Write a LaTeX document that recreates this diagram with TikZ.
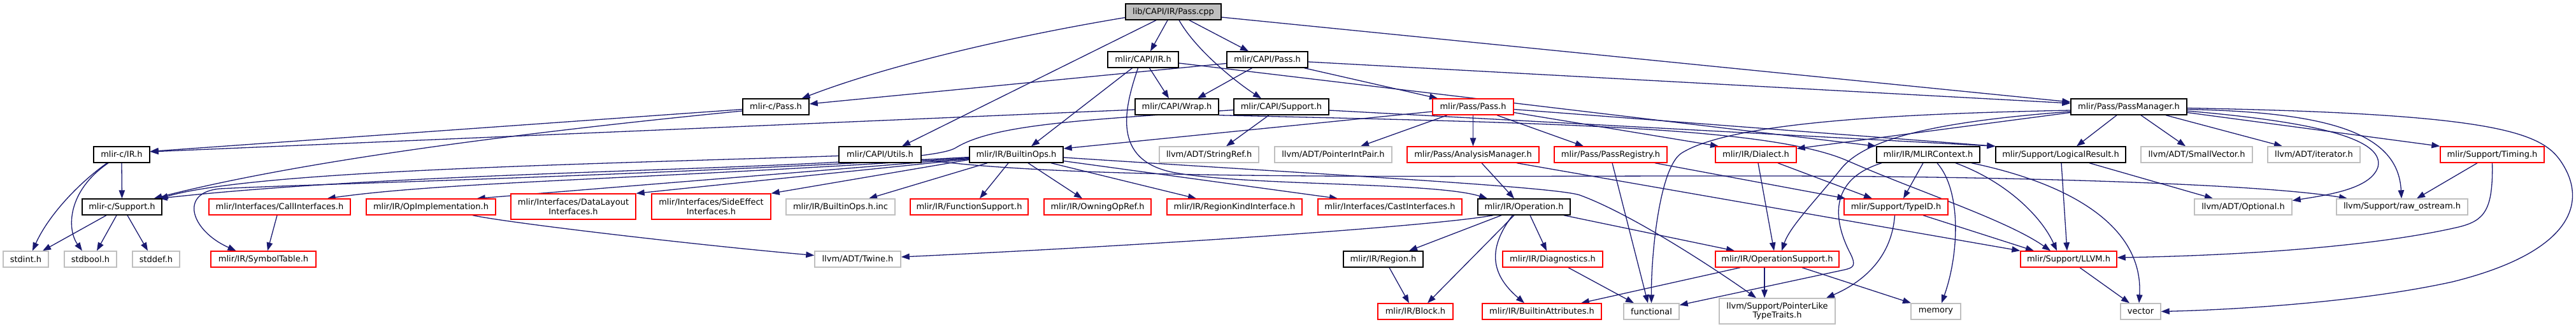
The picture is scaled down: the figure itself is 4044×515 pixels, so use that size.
\documentclass[tikz,border=0pt]{standalone}
\usepackage{fontspec}
\setmainfont{DejaVu Sans}
\usetikzlibrary{arrows.meta}
\pgfdeclarelayer{bg}
\pgfsetlayers{bg,main}
\definecolor{edgeblue}{HTML}{191970}
\definecolor{nodered}{HTML}{FF0000}
\definecolor{nodegray}{HTML}{BFBFBF}
\definecolor{rootfill}{HTML}{BFBFBF}
\begin{document}
\begin{tikzpicture}[x=1pt,y=-1pt,
  base/.style={rectangle, inner sep=0pt, minimum height=25pt, fill=white, align=center,
    font=\fontsize{13}{14.5}\selectfont, line width=1.4pt},
  blk/.style={base, draw=black},
  rbox/.style={base, draw=nodered},
  gbox/.style={base, draw=nodegray},
  root/.style={base, draw=black, fill=rootfill},
  e/.style={draw=edgeblue, line width=1.3pt, -{Triangle[length=13pt,width=9.5pt]}, fill=none}]
\useasboundingbox (0,0) rectangle (4044,515);
% row 0
\node[root, minimum width=150pt] (passcpp) at (1842,18.5) {lib/CAPI/IR/Pass.cpp};
% row 1
\node[blk, minimum width=111pt] (capiir) at (1794.5,93.5) {mlir/CAPI/IR.h};
\node[blk, minimum width=127pt] (capipass) at (1989.5,93.5) {mlir/CAPI/Pass.h};
% row 2
\node[blk, minimum width=104pt] (cpass) at (1218,167.5) {mlir-c/Pass.h};
\node[blk, minimum width=131pt] (capiwrap) at (1847.5,167.5) {mlir/CAPI/Wrap.h};
\node[blk, minimum width=149pt] (capisupport) at (2011.5,167.5) {mlir/CAPI/Support.h};
\node[rbox, minimum width=127pt] (passpass) at (2312.5,167.5) {mlir/Pass/Pass.h};
\node[blk, minimum width=182pt] (passmanager) at (3342,167.5) {mlir/Pass/PassManager.h};
% row 3
\node[blk, minimum width=88pt] (cir) at (191,242.5) {mlir-c/IR.h};
\node[blk, minimum width=129pt] (capiutils) at (1381.5,242.5) {mlir/CAPI/Utils.h};
\node[blk, minimum width=147pt] (builtinops) at (1595.5,242.5) {mlir/IR/BuiltinOps.h};
\node[gbox, minimum width=156pt] (stringref) at (1898,242.5) {llvm/ADT/StringRef.h};
\node[gbox, minimum width=184pt] (pointerintpair) at (2093,242.5) {llvm/ADT/PointerIntPair.h};
\node[rbox, minimum width=207pt] (analysismanager) at (2312.5,242.5) {mlir/Pass/AnalysisManager.h};
\node[rbox, minimum width=177pt] (passregistry) at (2528.5,242.5) {mlir/Pass/PassRegistry.h};
\node[rbox, minimum width=127pt] (dialect) at (2756.5,242.5) {mlir/IR/Dialect.h};
\node[blk, minimum width=162pt] (mlircontext) at (3027,242.5) {mlir/IR/MLIRContext.h};
\node[blk, minimum width=204pt] (logicalresult) at (3235,242.5) {mlir/Support/LogicalResult.h};
\node[gbox, minimum width=175pt] (smallvector) at (3448.5,242.5) {llvm/ADT/SmallVector.h};
\node[gbox, minimum width=145pt] (iterator) at (3632.5,242.5) {llvm/ADT/iterator.h};
\node[rbox, minimum width=163pt] (timing) at (3912.5,242.5) {mlir/Support/Timing.h};
% row 4
\node[blk, minimum width=125pt] (csupport) at (191.5,324.5) {mlir-c/Support.h};
\node[rbox, minimum width=222pt] (callinterfaces) at (439,324.5) {mlir/Interfaces/CallInterfaces.h};
\node[rbox, minimum width=203pt] (opimpl) at (676.5,324.5) {mlir/IR/OpImplementation.h};
\node[rbox, minimum width=196pt, minimum height=40pt] (datalayout) at (900,324) {mlir/Interfaces/DataLayout\\Interfaces.h};
\node[rbox, minimum width=187pt, minimum height=40pt] (sideeffect) at (1116.5,324) {mlir/Interfaces/SideEffect\\Interfaces.h};
\node[gbox, minimum width=171pt] (builtinopsinc) at (1319.5,324.5) {mlir/IR/BuiltinOps.h.inc};
\node[rbox, minimum width=185pt] (functionsupport) at (1521.5,324.5) {mlir/IR/FunctionSupport.h};
\node[rbox, minimum width=168pt] (owningopref) at (1723,324.5) {mlir/IR/OwningOpRef.h};
\node[rbox, minimum width=212pt] (regionkind) at (1938,324.5) {mlir/IR/RegionKindInterface.h};
\node[rbox, minimum width=226pt] (castinterfaces) at (2182,324.5) {mlir/Interfaces/CastInterfaces.h};
\node[blk, minimum width=145pt] (operation) at (2392.5,324.5) {mlir/IR/Operation.h};
\node[rbox, minimum width=163pt] (typeid) at (2976.5,324.5) {mlir/Support/TypeID.h};
\node[gbox, minimum width=153pt] (optional) at (3521.5,324.5) {llvm/ADT/Optional.h};
\node[gbox, minimum width=206pt] (rawostream) at (3771,324.5) {llvm/Support/raw\_ostream.h};
% row 5
\node[gbox, minimum width=71pt] (stdint) at (40.5,406.5) {stdint.h};
\node[gbox, minimum width=82pt] (stdbool) at (142,406.5) {stdbool.h};
\node[gbox, minimum width=74pt] (stddef) at (245,406.5) {stddef.h};
\node[rbox, minimum width=165pt] (symboltable) at (413.5,406.5) {mlir/IR/SymbolTable.h};
\node[gbox, minimum width=135pt] (twine) at (1346.5,406.5) {llvm/ADT/Twine.h};
\node[blk, minimum width=125pt] (region) at (2171.5,406.5) {mlir/IR/Region.h};
\node[rbox, minimum width=157pt] (diagnostics) at (2437.5,406.5) {mlir/IR/Diagnostics.h};
\node[rbox, minimum width=194pt] (opsupport) at (2790,406.5) {mlir/IR/OperationSupport.h};
\node[rbox, minimum width=151pt] (llvmh) at (3247.5,406.5) {mlir/Support/LLVM.h};
% row 6
\node[rbox, minimum width=118pt] (block) at (2222,488.5) {mlir/IR/Block.h};
\node[rbox, minimum width=187pt] (builtinattrs) at (2420.5,488.5) {mlir/IR/BuiltinAttributes.h};
\node[gbox, minimum width=87pt] (functional) at (2592.5,488.5) {functional};
\node[gbox, minimum width=182pt, minimum height=40pt] (pointerlike) at (2790,488) {llvm/Support/PointerLike\\TypeTraits.h};
\node[gbox, minimum width=78pt] (memory) at (3039,488.5) {memory};
\node[gbox, minimum width=63pt] (vector) at (3360.5,488.5) {vector};

\begin{pgfonlayer}{bg}
% Pass.cpp
\draw[e] ([yshift=-9pt]passcpp.west) .. controls (1600,55) and (1400,100) .. ([xshift=-12pt]cpass.north east);
\draw[e] ([xshift=-27pt]passcpp.south) -- ([xshift=34.5pt]capiutils.north);
\draw[e] ([xshift=-9pt]passcpp.south) -- ([xshift=11.5pt]capiir.north);
\draw[e] ([xshift=9pt]passcpp.south) .. controls (1875,75) and (1935,125) .. ([xshift=-31.5pt]capisupport.north);
\draw[e] ([xshift=25pt]passcpp.south) -- ([xshift=-29.5pt]capipass.north);
\draw[e] ([yshift=-8.5pt]passcpp.east) -- ([yshift=7.5pt]passmanager.west);
% CAPI/IR.h
\draw[e] ([xshift=10pt]capiir.south) -- ([xshift=-12.5pt]capiwrap.north);
\draw[e] ([xshift=-17pt]capiir.south) -- ([xshift=23.5pt]builtinops.north);
\draw[e] ([xshift=-8pt]capiir.south) .. controls (1765,170) and (1745,250) .. (1840,270) .. controls (1950,292) and (2250,285) .. ([xshift=-57.5pt]operation.north);
\draw[e] ([yshift=-5.5pt]capiir.east) -- (mlircontext.north west);
% CAPI/Pass.h
\draw[e] ([yshift=-6pt]capipass.west) -- ([yshift=4.5pt]cpass.east);
\draw[e] ([xshift=-24pt]capipass.south) -- ([xshift=32.5pt]capiwrap.north);
\draw[e] ([xshift=58pt]capipass.south) -- ([xshift=-55.5pt]passpass.north);
\draw[e] ([yshift=-3.5pt]capipass.east) -- ([yshift=5.5pt]passmanager.west);
% CAPI/Wrap.h
\draw[e] ([yshift=-4.5pt]capiwrap.west) -- ([yshift=4.5pt]cir.east);
\draw[e] (capiwrap.south east) .. controls (2450,193) and (2780,200) .. (2900,252) .. controls (3010,300) and (3150,345) .. ([xshift=-28.5pt]llvmh.north);
% CAPI/Support.h
\draw[e] ([yshift=-5pt]capisupport.west) .. controls (1700,188) and (1560,195) .. (1500,232) .. controls (1440,268) and (700,262) .. ([xshift=58pt]csupport.north);
\draw[e] ([yshift=-5.5pt]capisupport.east) -- (logicalresult.north west);
\draw[e] ([xshift=-19.5pt]capisupport.south) -- ([xshift=27pt]stringref.north);
% Pass/Pass.h
\draw[e] ([yshift=-7.5pt]passpass.west) -- ([yshift=9.5pt]builtinops.east);
\draw[e] ([xshift=-40.5pt]passpass.south) -- ([xshift=43pt]pointerintpair.north);
\draw[e] (passpass.south) -- (analysismanager.north);
\draw[e] ([xshift=37.5pt]passpass.south) -- ([xshift=-42.5pt]passregistry.north);
\draw[e] ([yshift=-9pt]passpass.east) -- ([xshift=-58.5pt]dialect.north);
\draw[e] ([yshift=-4pt]passpass.east) -- (logicalresult.north west);
% PassManager.h
\draw[e] ([yshift=-9pt]passmanager.west) -- ([yshift=9.5pt]dialect.east);
\draw[e] ([yshift=-7.5pt]passmanager.west) .. controls (3050,190) and (2930,215) .. (2890,265) .. controls (2850,315) and (2810,355) .. ([xshift=7pt]opsupport.north);
\draw[e] ([yshift=-5.5pt]passmanager.west) .. controls (3000,178) and (2720,190) .. (2640,240) .. controls (2605,262) and (2592,400) .. (functional.north);
\draw[e] ([xshift=-19pt]passmanager.south) -- ([xshift=25pt]logicalresult.north);
\draw[e] ([xshift=19pt]passmanager.south) -- ([xshift=-17.5pt]smallvector.north);
\draw[e] ([xshift=58pt]passmanager.south) -- ([xshift=-49.5pt]iterator.north);
\draw[e] ([yshift=-9pt]passmanager.east) -- (timing.north west);
\draw[e] ([yshift=-6.5pt]passmanager.east) .. controls (3620,190) and (3745,215) .. (3733,262) .. controls (3722,295) and (3660,305) .. ([yshift=10pt]optional.east);
\draw[e] ([yshift=-4pt]passmanager.east) .. controls (3660,176) and (3765,210) .. ([xshift=-1pt]rawostream.north);
\draw[e] ([yshift=-2pt]passmanager.east) .. controls (3900,178) and (3985,205) .. (4018,250) .. controls (4065,315) and (4040,395) .. (3850,442) .. controls (3700,475) and (3500,486) .. (vector.east);
% AnalysisManager, PassRegistry, Dialect
\draw[e] ([xshift=13.5pt]analysismanager.south) -- ([xshift=-15.5pt]operation.north);
\draw[e] ([xshift=68.5pt]analysismanager.south) -- (llvmh.north west);
\draw[e] ([xshift=2.5pt]passregistry.south) -- ([xshift=-5.5pt]functional.north);
\draw[e] ([xshift=69.5pt]passregistry.south) -- ([xshift=3pt]typeid.north west);
\draw[e] ([xshift=3.5pt]dialect.south) -- ([xshift=-5pt]opsupport.north);
\draw[e] ([xshift=34.5pt]dialect.south) -- ([xshift=-37.5pt]typeid.north);
% MLIRContext
\draw[e] ([xshift=-8pt]mlircontext.south) -- ([xshift=11.5pt]typeid.north);
\draw[e] ([xshift=14pt]mlircontext.south) .. controls (3080,300) and (3075,400) .. ([xshift=9pt]memory.north);
\draw[e] ([xshift=43pt]mlircontext.south) .. controls (3150,285) and (3205,340) .. ([xshift=-18.5pt]llvmh.north);
\draw[e] ([xshift=68pt]mlircontext.south) .. controls (3260,290) and (3365,360) .. ([xshift=-2.5pt]vector.north);
\draw[e] ([xshift=-73pt]mlircontext.south) .. controls (2860,285) and (2885,360) .. (2905,398) .. controls (2915,418) and (2908,420) .. (2896,423) -- ([yshift=10pt]functional.east);
% LogicalResult, TypeID, Timing, LLVM
\draw[e] ([xshift=1pt]logicalresult.south) -- ([xshift=-2.5pt]llvmh.north);
\draw[e] ([xshift=45pt]logicalresult.south) -- ([xshift=-47.5pt]optional.north);
\draw[e] ([xshift=42.5pt]typeid.south) -- ([xshift=-54.5pt]llvmh.north);
\draw[e] ([xshift=-2pt]typeid.south) .. controls (2970,400) and (2930,440) .. ([xshift=77pt]pointerlike.north);
\draw[e] ([xshift=-23.5pt]timing.south) -- ([xshift=23pt]rawostream.north);
\draw[e] (timing.south) .. controls (3914,330) and (3900,346) .. (3860,356) .. controls (3700,393) and (3450,402) .. ([yshift=2.5pt]llvmh.east);
\draw[e] ([xshift=17.5pt]llvmh.south) -- ([xshift=-17.5pt]vector.north);
% Operation
\draw[e] ([xshift=-48.5pt]operation.south) .. controls (2250,355) and (1800,385) .. ([yshift=3.5pt]twine.east);
\draw[e] ([xshift=-35.5pt]operation.south) -- ([xshift=40.5pt]region.north);
\draw[e] ([xshift=-15.5pt]operation.south) -- ([xshift=19pt]block.north);
\draw[e] ([xshift=-18pt]operation.south) .. controls (2335,390) and (2340,430) .. ([xshift=-27.5pt]builtinattrs.north);
\draw[e] ([xshift=9.5pt]operation.south) -- ([xshift=-9.5pt]diagnostics.north);
\draw[e] ([xshift=62.5pt]operation.south) -- ([xshift=-67pt]opsupport.north);
\draw[e] ([xshift=9.5pt]region.south) -- ([xshift=-10pt]block.north);
\draw[e] ([xshift=24.5pt]diagnostics.south) -- ([xshift=-27.5pt]functional.north);
\draw[e] ([xshift=-58pt]opsupport.south) -- ([xshift=61.5pt]builtinattrs.north);
\draw[e] ([xshift=-20pt]opsupport.south) -- ([xshift=-20pt]pointerlike.north);
\draw[e] ([xshift=39pt]opsupport.south) -- ([xshift=-39pt]memory.north);
% BuiltinOps
\draw[e] ([xshift=-45.5pt]builtinops.south) -- ([xshift=44.5pt]builtinopsinc.north);
\draw[e] ([xshift=-12.5pt]builtinops.south) -- ([xshift=16.5pt]functionsupport.north);
\draw[e] ([xshift=18.5pt]builtinops.south) -- ([xshift=-24pt]owningopref.north);
\draw[e] ([xshift=54.5pt]builtinops.south) -- ([xshift=-60pt]regionkind.north);
\draw[e] ([yshift=-10pt]builtinops.east) -- ([xshift=-82pt]castinterfaces.north);
\draw[e] ([yshift=-4.5pt]builtinops.east) .. controls (2100,275) and (2440,293) .. (2480,306) .. controls (2560,335) and (2690,420) .. ([xshift=-33pt]pointerlike.north);
\draw[e] ([yshift=-8pt]builtinops.west) -- (sideeffect.north east);
\draw[e] ([yshift=-7pt]builtinops.west) -- (datalayout.north east);
\draw[e] ([yshift=-6pt]builtinops.west) -- ([xshift=-30pt]opimpl.north east);
\draw[e] ([yshift=-5pt]builtinops.west) .. controls (1000,282) and (700,285) .. ([xshift=-37pt]callinterfaces.north east);
\draw[e] ([yshift=-4pt]builtinops.west) .. controls (900,280) and (500,288) .. (345,296) .. controls (280,302) and (300,362) .. ([xshift=-43pt]symboltable.north);
% CAPI/Utils.h
\draw[e] ([yshift=-2pt]capiutils.west) .. controls (900,258) and (400,268) .. ([xshift=-4pt]csupport.north east);
\draw[e] ([yshift=-7.5pt]capiutils.east) .. controls (1700,285) and (2300,275) .. (2800,276) .. controls (3200,277) and (3560,290) .. ([xshift=-86pt]rawostream.north);
% mlir-c
\draw[e] ([yshift=-4pt]cpass.west) -- ([yshift=5pt]cir.east);
\draw[e] ([yshift=-6.5pt]cpass.west) .. controls (900,200) and (500,245) .. ([xshift=50pt]csupport.north);
\draw[e] (cir.south) -- (csupport.north);
\draw[e] ([xshift=-23pt]cir.south) .. controls (120,290) and (75,340) .. ([xshift=10.5pt]stdint.north);
\draw[e] ([xshift=-21pt]cir.south) .. controls (105,300) and (105,360) .. ([xshift=-13pt]stdbool.north);
\draw[e] ([xshift=-24.5pt]csupport.south) -- ([xshift=26.5pt]stdint.north);
\draw[e] ([xshift=-8.5pt]csupport.south) -- ([xshift=10pt]stdbool.north);
\draw[e] ([xshift=8.5pt]csupport.south) -- ([xshift=-13pt]stddef.north);
\draw[e] ([xshift=-4pt]callinterfaces.south) -- ([xshift=6.5pt]symboltable.north);
\draw[e] ([xshift=65.5pt]opimpl.south) .. controls (800,350) and (1100,385) .. ([yshift=6pt]twine.west);
\end{pgfonlayer}
\end{tikzpicture}
\end{document}
